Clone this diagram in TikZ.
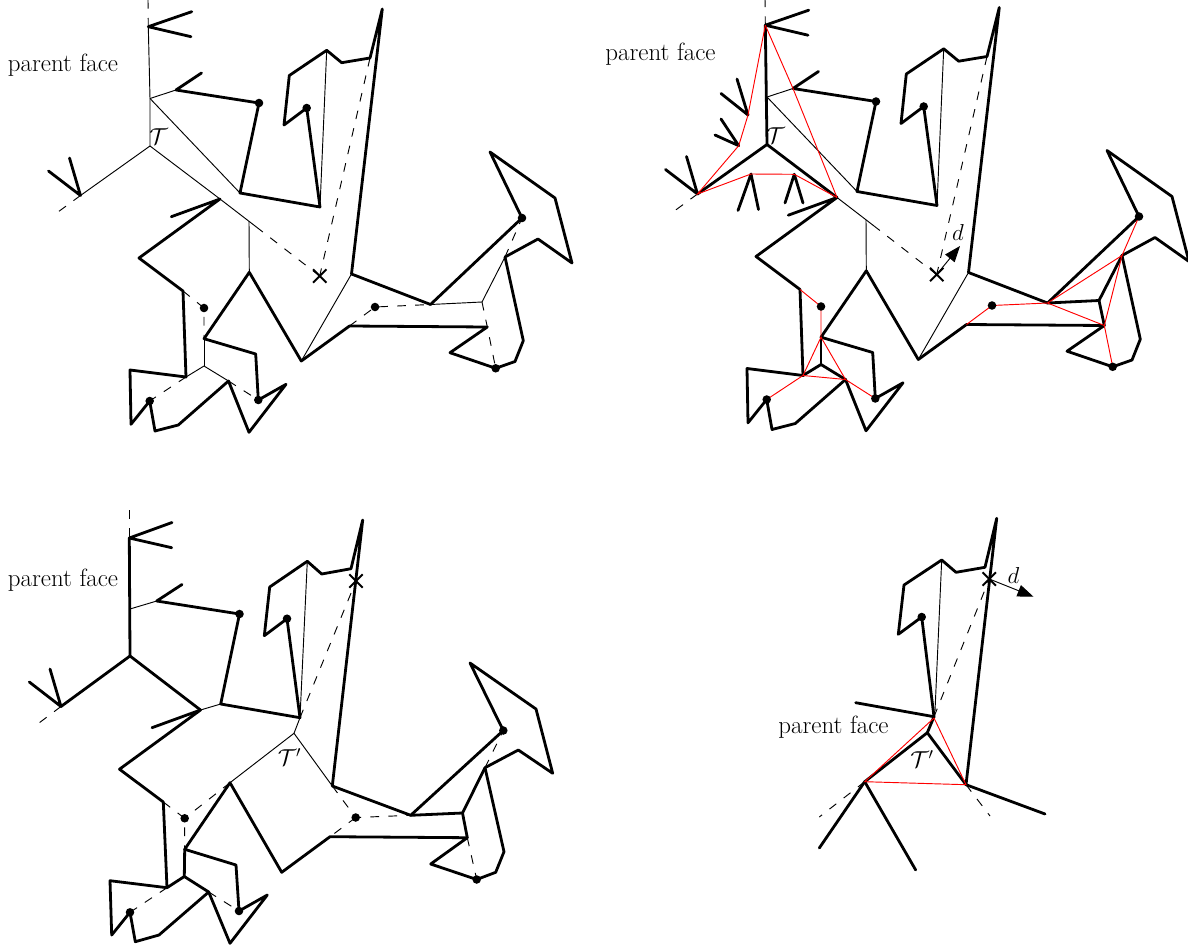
\documentclass[tikz,border=0pt]{standalone}
\usetikzlibrary{arrows.meta,shapes.misc}
\tikzset{
  heavy/.style={line width=2.1pt,line join=round,line cap=round},
  light/.style={line width=0.7pt},
  dash line/.style={line width=0.7pt,dash pattern=on 6.5pt off 7pt},
  redline/.style={line width=0.7pt,draw=red},
  dotmark/.style={circle,fill=black,inner sep=0pt,minimum size=6.4pt},
  xmark/.style={cross out,draw=black,line width=1.5pt,inner sep=0pt,minimum size=8.5pt},
  dirarrow/.style={line width=0.7pt,-{Triangle[length=12pt,width=9pt]}},
  lab/.style={font=\fontsize{18.7}{22}\selectfont,inner sep=0pt,text=black}
}
% shared outline of the two upper panels
\newcommand{\coordsAB}{%
  \coordinate (TopD) at (148,0);
  \coordinate (R) at (148.3,26.7);
  \coordinate (Rf1) at (191.7,11.7);
  \coordinate (Rf2) at (191,36.7);
  \coordinate (A1) at (150,98.5);
  \coordinate (C) at (150,146);
  \coordinate (L) at (80.5,195.5);
  \coordinate (Lf1) at (48.5,171);
  \coordinate (Lf2) at (69.5,158);
  \coordinate (Ld) at (58,212);
  \coordinate (F1) at (201.5,73);
  \coordinate (F) at (176,90);
  \coordinate (d1) at (259,103);
  \coordinate (b1) at (240,193);
  \coordinate (b2) at (320,207);
  \coordinate (d2) at (306.7,108);
  \coordinate (b3) at (284,125);
  \coordinate (b4) at (289.3,75.5);
  \coordinate (b5) at (326.7,50.3);
  \coordinate (b6) at (341.7,62.7);
  \coordinate (b7) at (370,58);
  \coordinate (tip) at (382.3,9);
  \coordinate (b8) at (351.5,274);
  \coordinate (b9) at (430.5,304.5);
  \coordinate (d3) at (522,218);
  \coordinate (b10) at (490,152);
  \coordinate (b11) at (555,198);
  \coordinate (b12) at (572,263);
  \coordinate (b13) at (538,239);
  \coordinate (b14) at (505,257);
  \coordinate (b15) at (523.3,340.7);
  \coordinate (b16) at (515,361.5);
  \coordinate (d4) at (495.7,368.3);
  \coordinate (b17) at (450,352.7);
  \coordinate (b18) at (487.3,327);
  \coordinate (b19) at (349.5,326);
  \coordinate (b20) at (301.3,361);
  \coordinate (b21) at (249.3,272.3);
  \coordinate (b22) at (204,338.7);
  \coordinate (b23) at (255.7,354);
  \coordinate (d5) at (258.3,400);
  \coordinate (b24) at (286,384.3);
  \coordinate (b25) at (249,432.3);
  \coordinate (b26) at (228.5,381);
  \coordinate (b27) at (178.3,425);
  \coordinate (b28) at (155,431);
  \coordinate (d6) at (149.7,401);
  \coordinate (b29) at (131,424.3);
  \coordinate (b30) at (130,370);
  \coordinate (b31) at (186,377);
  \coordinate (b32) at (183,291);
  \coordinate (b33) at (139,258);
  \coordinate (b34) at (220,199);
  \coordinate (b35) at (171.3,216.7);
  \coordinate (J1) at (249,221.3);
  \coordinate (J1b) at (256,226.7);
  \coordinate (d7) at (204,308);
  \coordinate (d8) at (375,307);
  \coordinate (J2) at (204,366);
  \coordinate (J3) at (482,302);
  \coordinate (X) at (319.7,276);
}
\newcommand{\outlineAB}{%
  \draw[heavy] (Rf1) -- (R) -- (Rf2);
  \draw[heavy] (Lf1) -- (L) -- (Lf2);
  \draw[heavy] (F1) -- (F) -- (d1) -- (b1) -- (b2) -- (d2) -- (b3) -- (b4) -- (b5) -- (b6) -- (b7) -- (tip) -- (b8) -- (b9) -- (d3) -- (b10) -- (b11) -- (b12) -- (b13) -- (b14) -- (b15) -- (b16) -- (d4) -- (b17) -- (b18) -- (b19) -- (b20) -- (b21) -- (b22) -- (b23) -- (d5) -- (b24) -- (b25) -- (b26) -- (b27) -- (b28) -- (d6) -- (b29) -- (b30) -- (b31) -- (b32) -- (b33) -- (b34) -- (b35);
  \draw[dash line] (TopD) -- (R);
  \draw[dash line] (L) -- (Ld);
  \draw[light] (A1) -- (F);
  \draw[light] (A1) -- (b1);
  \draw[light] (b34) -- (J1) -- (J1b);
  \draw[light] (J1) -- (b21);
  \draw[light] (b5) -- (b2);
  \draw[light] (b8) -- (b20);
  \draw[dash line] (J1b) -- (X);
  \draw[dash line] (b7) -- (X);
}
\newcommand{\dotsAB}[1]{%
  \node[dotmark] (#1d1) at (d1) {};
  \node[dotmark] (#1d2) at (d2) {};
  \node[dotmark] (#1d3) at (d3) {};
  \node[dotmark] (#1d4) at (d4) {};
  \node[dotmark] (#1d5) at (d5) {};
  \node[dotmark] (#1d6) at (d6) {};
  \node[dotmark] (#1d7) at (d7) {};
  \node[dotmark] (#1d8) at (d8) {};
  \node[xmark] (#1x) at (X) {};
}
\begin{document}
\begin{tikzpicture}[x=0.75pt,y=-0.75pt]
\useasboundingbox (0,0) rectangle (1188,949);
% ---------- panel A (top left)
\begin{scope}
  \coordsAB
  \outlineAB
  \draw[light] (R) -- (A1) -- (C);
  \draw[light] (C) -- (L);
  \draw[light] (C) -- (b34);
  \draw[light] (b9) -- (J3) -- (b14);
  \draw[light] (b22) -- (J2);
  \draw[light] (J2) -- (b31);
  \draw[light] (J2) -- (b26);
  \draw[dash line] (J3) -- (b18) -- (d4);
  \draw[dash line] (b14) -- (d3);
  \draw[dash line] (b19) -- (d8) -- (b9);
  \draw[dash line] (b32) -- (d7) -- (b22);
  \draw[dash line] (b31) -- (d6);
  \draw[dash line] (b26) -- (d5);
  \dotsAB{a}
  \node[lab] (faceA) at (63,65) {parent face};
  \node[lab] (treeA) at (158.5,137) {$\mathcal{T}$};
\end{scope}
% ---------- panel B (top right)
\begin{scope}[shift={(617,-1.5)}]
  \coordsAB
  \coordinate (e1) at (131,116.5);
  \coordinate (e1a) at (104,95);
  \coordinate (e1b) at (120,80.5);
  \coordinate (e2) at (121.7,147.2);
  \coordinate (e2a) at (98,136.5);
  \coordinate (e2b) at (104,120.5);
  \coordinate (e3) at (134,175.5);
  \coordinate (e3a) at (121,212);
  \coordinate (e3b) at (141.5,211);
  \coordinate (e4) at (177.3,175.8);
  \coordinate (e4a) at (168,204.5);
  \coordinate (e4b) at (186,204.5);
  \outlineAB
  \draw[heavy] (R) -- (C);
  \draw[heavy] (L) -- (C) -- (b34);
  \draw[heavy] (e1a) -- (e1) -- (e1b);
  \draw[heavy] (e2a) -- (e2) -- (e2b);
  \draw[heavy] (e3a) -- (e3) -- (e3b);
  \draw[heavy] (e4a) -- (e4) -- (e4b);
  \draw[heavy] (b9) -- (J3) -- (b14);
  \draw[heavy] (J3) -- (b18);
  \draw[heavy] (b22) -- (J2);
  \draw[heavy] (b31) -- (J2) -- (b26);
  \draw[redline] (R) -- (e1) -- (e2) -- (L) -- (e3) -- (e4) -- (b34);
  \draw[redline] (R) -- (F) -- (b34);
  \draw[redline] (b32) -- (d7) -- (b22);
  \draw[redline] (b22) -- (b31) -- (d6);
  \draw[redline] (b31) -- (b26);
  \draw[redline] (b22) -- (b26) -- (d5);
  \draw[redline] (b19) -- (d8) -- (b9) -- (b18) -- (d4);
  \draw[redline] (b9) -- (b14) -- (b18);
  \draw[redline] (b14) -- (d3);
  \dotsAB{b}
  \draw[dirarrow] (bx.center) -- (343,247.5);
  \node[lab] (faceB) at (43.5,55.5) {parent face};
  \node[lab] (treeB) at (158.5,137.5) {$\mathcal{T}$};
  \node[lab] (dirB) at (341,233.5) {$d$};
\end{scope}
% ---------- panel C (bottom left)
\begin{scope}
  \coordinate (cTop) at (129.3,510);
  \coordinate (cR) at (129.3,538);
  \coordinate (cRf1) at (172,522.5);
  \coordinate (cRf2) at (171.7,547.7);
  \coordinate (cA1) at (130,609);
  \coordinate (cC) at (130,656);
  \coordinate (cL) at (61,706.5);
  \coordinate (cLf1) at (29.3,682);
  \coordinate (cLf2) at (50,669);
  \coordinate (cLd) at (39,723);
  \coordinate (cF) at (156.7,601);
  \coordinate (cF1) at (182,584.5);
  \coordinate (cd1) at (239.5,614);
  \coordinate (c1) at (220.7,704);
  \coordinate (c2) at (300,717.7);
  \coordinate (cd2) at (287,618.7);
  \coordinate (c3) at (264.3,635.7);
  \coordinate (c4) at (269.7,587);
  \coordinate (c5) at (307.3,561.3);
  \coordinate (c6) at (321.7,574);
  \coordinate (c7) at (351,568.7);
  \coordinate (ctip) at (362.7,520);
  \coordinate (c8) at (332.3,786);
  \coordinate (c9) at (410.7,815.3);
  \coordinate (cd3) at (503.3,730.5);
  \coordinate (c10) at (470,663);
  \coordinate (c11) at (536,709);
  \coordinate (c12) at (552.7,773.3);
  \coordinate (c13) at (518.3,750);
  \coordinate (c14) at (485,767.7);
  \coordinate (c15) at (504,851.7);
  \coordinate (c16) at (495.7,872.3);
  \coordinate (cd4) at (476.7,879.5);
  \coordinate (c17) at (430.7,864);
  \coordinate (c18) at (467.3,837.7);
  \coordinate (c19) at (330,836.7);
  \coordinate (c20) at (281.7,872.3);
  \coordinate (c21) at (230,782.7);
  \coordinate (c22) at (184.7,849.3);
  \coordinate (c23) at (236,865);
  \coordinate (cd5) at (239,911);
  \coordinate (c24) at (267.3,895);
  \coordinate (c25) at (230,943.3);
  \coordinate (c26) at (208.7,892);
  \coordinate (c27) at (159,935);
  \coordinate (c28) at (135.3,941.7);
  \coordinate (cd6) at (130,912.3);
  \coordinate (c29) at (111.7,935);
  \coordinate (c30) at (110,880.7);
  \coordinate (c31) at (167,887.7);
  \coordinate (c32) at (163.3,802);
  \coordinate (c33) at (119.5,769.2);
  \coordinate (c34) at (200.5,710);
  \coordinate (c35) at (152,727.7);
  \coordinate (cJ) at (294,733.3);
  \coordinate (cd7) at (184.7,818.3);
  \coordinate (cd8) at (355.7,817.5);
  \coordinate (cJ2) at (184.3,876.5);
  \coordinate (cJ3) at (462.5,813);
  \coordinate (cX) at (356,581);
  \draw[heavy] (cRf1) -- (cR) -- (cRf2);
  \draw[heavy] (cLf1) -- (cL) -- (cLf2);
  \draw[heavy] (cR) -- (cC);
  \draw[heavy] (cL) -- (cC) -- (c34);
  \draw[heavy] (cF1) -- (cF) -- (cd1) -- (c1) -- (c2) -- (cd2) -- (c3) -- (c4) -- (c5) -- (c6) -- (c7) -- (ctip) -- (c8) -- (c9) -- (cd3) -- (c10) -- (c11) -- (c12) -- (c13) -- (c14) -- (c15) -- (c16) -- (cd4) -- (c17) -- (c18) -- (c19) -- (c20) -- (c21) -- (c22) -- (c23) -- (cd5) -- (c24) -- (c25) -- (c26) -- (c27) -- (c28) -- (cd6) -- (c29) -- (c30) -- (c31) -- (c32) -- (c33) -- (c34) -- (c35);
  \draw[heavy] (c9) -- (cJ3) -- (c14);
  \draw[heavy] (cJ3) -- (c18);
  \draw[heavy] (c22) -- (cJ2);
  \draw[heavy] (c31) -- (cJ2) -- (c26);
  \draw[light] (cA1) -- (cF);
  \draw[light] (c34) -- (c1);
  \draw[light] (c5) -- (c2);
  \draw[light] (c2) -- (cJ);
  \draw[light] (cJ) -- (c21);
  \draw[light] (cJ) -- (c8);
  \draw[dash line] (cTop) -- (cR);
  \draw[dash line] (cL) -- (cLd);
  \draw[dash line] (c2) -- (cX);
  \draw[dash line] (c21) -- (cd7);
  \draw[dash line] (c32) -- (cd7) -- (c22);
  \draw[dash line] (c8) -- (cd8) -- (c9);
  \draw[dash line] (cd8) -- (c19);
  \draw[dash line] (c18) -- (cd4);
  \draw[dash line] (c14) -- (cd3);
  \draw[dash line] (c31) -- (cd6);
  \draw[dash line] (c26) -- (cd5);
  \foreach \n in {d1,d2,d3,d4,d5,d6,d7,d8} {\node[dotmark] (m\n) at (c\n) {};}
  \node[xmark] (cxm) at (cX) {};
  \node[lab] (faceC) at (63,580) {parent face};
  \node[lab] (treeC) at (289.5,757) {$\mathcal{T}'$};
\end{scope}
% ---------- panel D (bottom right)
\begin{scope}
  \coordinate (ptip) at (996.7,518.3);
  \coordinate (p1) at (985,567.3);
  \coordinate (p2) at (956,572.3);
  \coordinate (p3) at (941.7,560);
  \coordinate (p4) at (904,585);
  \coordinate (p5) at (898.3,634.3);
  \coordinate (pd) at (921.7,617);
  \coordinate (p6) at (934,716.7);
  \coordinate (p7) at (855.7,702.7);
  \coordinate (p8) at (927.3,732.7);
  \coordinate (p9) at (864.7,781.7);
  \coordinate (p10) at (966,784.7);
  \coordinate (p11) at (1045,814);
  \coordinate (p12) at (819.3,848);
  \coordinate (p13) at (915.7,870);
  \coordinate (p14) at (819.3,817);
  \coordinate (p15) at (990,816);
  \coordinate (pr) at (934,718);
  \coordinate (px) at (989.3,579);
  \coordinate (pthin) at (935,711);
  \draw[heavy] (p7) -- (p6) -- (pd) -- (p5) -- (p4) -- (p3) -- (p2) -- (p1) -- (ptip) -- (p10) -- (p11);
  \draw[heavy] (p6) -- (p8) -- (p9) -- (p12);
  \draw[heavy] (p8) -- (p10);
  \draw[heavy] (p9) -- (p13);
  \draw[light] (p3) -- (pthin);
  \draw[dash line] (p6) -- (px);
  \draw[dash line] (p9) -- (p14);
  \draw[dash line] (p10) -- (p15);
  \draw[redline] (pr) -- (p9) -- (p10) -- (pr);
  \node[dotmark] (pdm) at (pd) {};
  \node[xmark] (pxm) at (px) {};
  \draw[dirarrow] (pxm.center) -- (1033.5,596.7);
  \node[lab] (faceD) at (833.5,727) {parent face};
  \node[lab] (treeD) at (922,759) {$\mathcal{T}'$};
  \node[lab] (dirD) at (1013.5,575) {$d$};
\end{scope}
\end{tikzpicture}
\end{document}
